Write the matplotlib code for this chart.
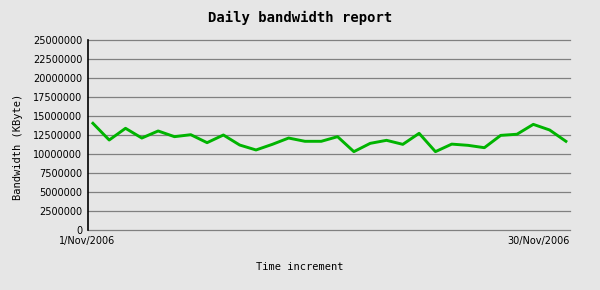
import numpy as np
import matplotlib
matplotlib.use("Agg")
import matplotlib.pyplot as plt

# daily bandwidth, KByte
days = list(range(1, 31))
bandwidth = [14040000, 11840000, 13380000, 12100000, 13030000, 12280000, 12540000, 11490000,
             12500000, 11180000, 10530000, 11270000, 12100000, 11670000, 11670000, 12280000,
             10310000, 11400000, 11800000, 11270000, 12720000, 10310000, 11300000, 11140000,
             10830000, 12450000, 12600000, 13900000, 13160000, 11670000]
yticks = np.arange(0, 25000001, 2500000)
xlabels = ["1/Nov/2006", "30/Nov/2006"]

bg = "#e6e6e6"
fig = plt.figure(figsize=(6, 2.9), dpi=100, facecolor=bg)
ax = fig.add_axes([88/600, 60/290, 482/600, 190/290], facecolor=bg)

# horizontal grid, drawn unclipped so the 0 and top lines show
for yv in yticks:
    ax.axhline(yv, color="#808080", lw=0.9, zorder=1, clip_on=False)

ax.plot(days, bandwidth, color="#00b400", lw=2.1, zorder=3)

ax.set_xlim(0.7, 30.25)
ax.set_ylim(0, 25000000)
ax.set_yticks(yticks)
ax.set_yticklabels([str(v) for v in yticks], fontsize=7, family="DejaVu Sans")
ax.tick_params(axis="y", length=0, pad=4)
ax.set_xticks([])

for s in ["top", "right", "bottom"]:
    ax.spines[s].set_visible(False)
ax.spines["left"].set_color("black")
ax.spines["left"].set_linewidth(1.2)
ax.spines["left"].set_zorder(4)

fig.text(87/600, 1 - 241/290, xlabels[0], ha="center", va="center", fontsize=7)
fig.text(570/600, 1 - 241/290, xlabels[1], ha="right", va="center", fontsize=7)

fig.text(300/600, 1 - 18/290, "Daily bandwidth report", ha="center", va="center",
         fontsize=10, family="DejaVu Sans Mono", weight="bold")
fig.text(300/600, 1 - 267/290, "Time increment", ha="center", va="center",
         fontsize=7.5, family="DejaVu Sans Mono")
fig.text(18/600, 1 - 147/290, "Bandwidth (KByte)", ha="center", va="center",
         rotation=90, fontsize=7.5, family="DejaVu Sans Mono")

fig.savefig("out.png", dpi=100, facecolor=bg)
